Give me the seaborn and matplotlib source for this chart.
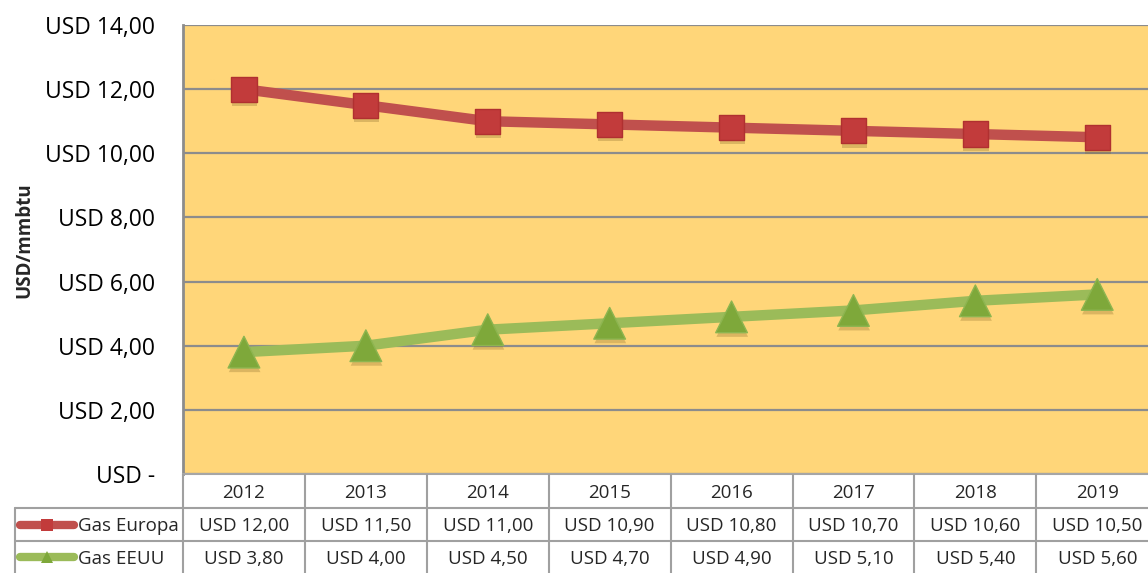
import numpy as np
import pandas as pd
import matplotlib
matplotlib.use("Agg")
import matplotlib.pyplot as plt
import matplotlib.patheffects as pe
import seaborn as sns

# chart data
years = ["2012", "2013", "2014", "2015", "2016", "2017", "2018", "2019"]
gas_europa = [12.00, 11.50, 11.00, 10.90, 10.80, 10.70, 10.60, 10.50]
gas_eeuu = [3.80, 4.00, 4.50, 4.70, 4.90, 5.10, 5.40, 5.60]
series_names = ["Gas Europa", "Gas EEUU"]
y_ticks = [0, 2, 4, 6, 8, 10, 12, 14]


def usd(v):
    if v == 0:
        return "USD -"
    return f"USD {v:.2f}".replace(".", ",")


W, H = 1148, 573
sns.set_theme(style="white")
plt.rcParams['font.family'] = ['Open Sans', 'DejaVu Sans']

fig = plt.figure(figsize=(W / 100, H / 100), dpi=100)
fig.patch.set_facecolor("white")

# plot area in pixel terms (extends slightly past right edge, like the source)
left, top, bottom = 183, 25, 474
col_w = 121.9
ax = fig.add_axes([left / W, (H - bottom) / H, col_w * 8 / W, (bottom - top) / H])
ax.set_facecolor("#FFD679")

df = pd.DataFrame({
    "year": list(range(len(years))) * 2,
    "value": gas_europa + gas_eeuu,
    "series": [series_names[0]] * len(years) + [series_names[1]] * len(years),
})

red_line, red_mark = "#C0504D", "#C23B3B"
green_line, green_mark = "#9BBB59", "#7EA83A"

sns.lineplot(data=df, x="year", y="value", hue="series",
             palette=[red_line, green_line], linewidth=7.5, legend=False,
             ax=ax, zorder=3)
shadow = [pe.SimplePatchShadow(offset=(0.5, -3), shadow_rgbFace="#8A6A2A", alpha=0.3), pe.Normal()]
ax.scatter(range(len(years)), gas_europa, marker="s", s=330, color=red_mark,
           edgecolor="#B03030", linewidth=1, zorder=4, path_effects=shadow)
ax.scatter(range(len(years)), gas_eeuu, marker="^", s=520, color=green_mark,
           edgecolor="#8DB550", linewidth=1, zorder=4, path_effects=shadow)

ax.set_xlim(-0.5, len(years) - 0.5)
ax.set_ylim(0, 14)
ax.set_yticks(y_ticks)
ax.set_yticklabels([usd(v) for v in y_ticks], fontsize=16.5, color="black")
ax.tick_params(axis="y", length=0, pad=20)
ax.set_xticks([])
ax.set_xlabel("")
ax.yaxis.grid(True, color="#8C8C8C", linewidth=1.6)
ax.set_axisbelow(True)
for s in ["top", "right"]:
    ax.spines[s].set_visible(False)
ax.spines["left"].set_color("#8C8C8C")
ax.spines["left"].set_linewidth(2)
ax.spines["bottom"].set_color("#A6A6A6")
ax.spines["bottom"].set_linewidth(1.5)
ax.set_ylabel("USD/mmbtu", fontsize=13.5, fontweight="bold", labelpad=8)
ax.yaxis.set_label_coords(-(left - 34) / (col_w * 8), 0.52)

# data table below the plot, in pixel coordinates
tax = fig.add_axes([0, 0, 1, (H - bottom) / H])
tax.set_xlim(0, W)
tax.set_ylim(0, H - bottom)
tax.axis("off")
grid_c = "#A0A0A0"
for k in range(9):
    x = left + k * col_w
    tax.plot([x, x], [0, 99], color=grid_c, lw=1.5)
tax.plot([15, W], [65, 65], color=grid_c, lw=1.5)
tax.plot([15, W], [32, 32], color=grid_c, lw=1.5)
tax.plot([15, 15], [0, 65], color=grid_c, lw=1.5)

fs = 13.5
for i, yr in enumerate(years):
    xc = left + (i + 0.5) * col_w
    tax.text(xc, 80, yr, ha="center", va="center", fontsize=fs)
    tax.text(xc, 47, usd(gas_europa[i]), ha="center", va="center", fontsize=fs)
    tax.text(xc, 14.5, usd(gas_eeuu[i]), ha="center", va="center", fontsize=fs)

for yc, name, lc, mc, mk in [(48.5, series_names[0], red_line, red_mark, "s"),
                              (16, series_names[1], green_line, green_mark, "^")]:
    tax.plot([20, 74], [yc, yc], color=lc, lw=6, solid_capstyle="round")
    tax.plot([47], [yc], marker=mk, color=mc, markersize=9, markeredgewidth=0)
    tax.text(78, yc - 1.5, name, ha="left", va="center", fontsize=fs)

fig.savefig("out.png", dpi=100)
